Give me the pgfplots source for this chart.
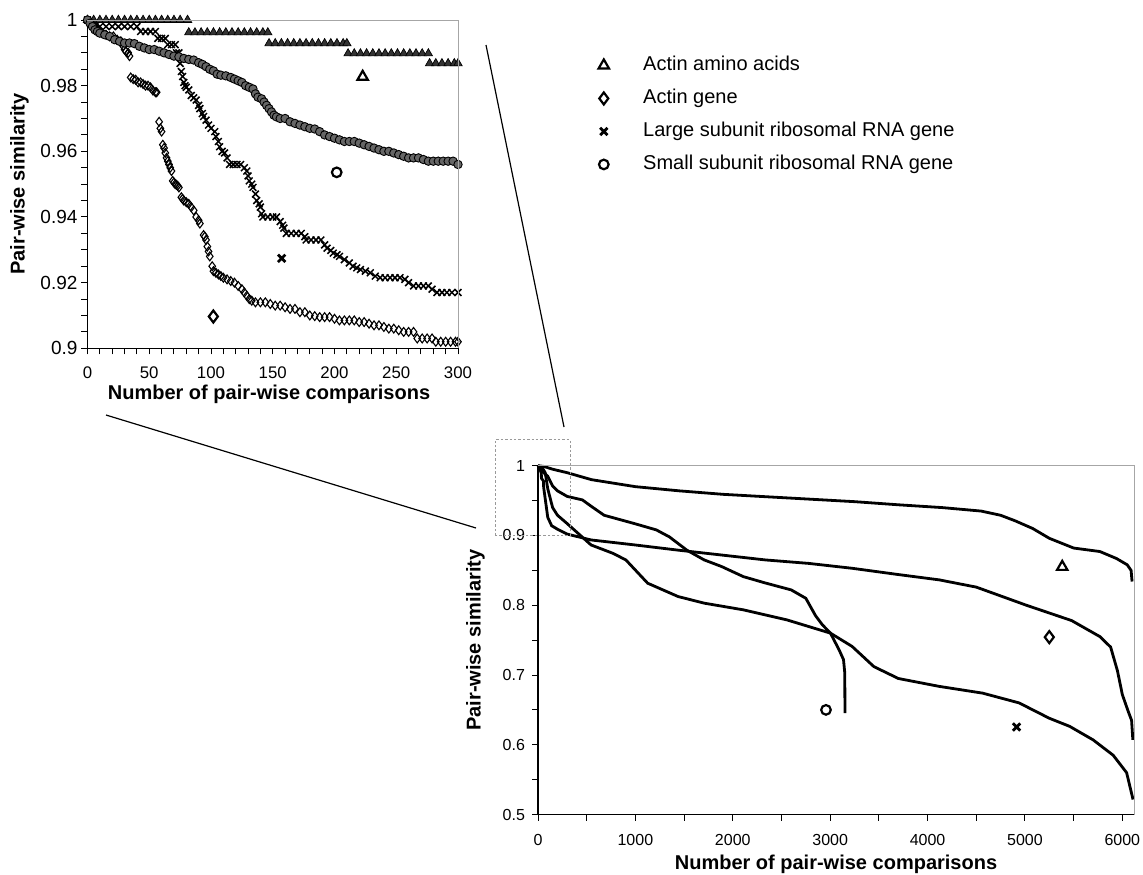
\documentclass[border=0pt]{standalone}
\usepackage{fontspec}
\setmainfont{Liberation Sans}
\usepackage{pgfplots}
\pgfplotsset{compat=1.18}

\pgfplotsset{
  simaxis/.style={
    scale only axis,
    axis x line*=bottom, axis y line*=left,
    tick align=outside,
    axis line style={line width=0.6pt},
    every tick/.style={black, line width=0.5pt},
    major tick length=3pt, minor tick length=3pt,
    /pgf/number format/assume math mode=true,
    /pgf/number format/1000 sep={},
    clip=false,
    label style={font=\fontsize{10}{12}\selectfont\bfseries},
    after end axis/.code={\draw[gray!70, line width=0.5pt]
      (rel axis cs:0,1) -- (rel axis cs:1,1) -- (rel axis cs:1,0);},
  },
  bigtri/.style={only marks, mark=triangle, mark size=3pt, mark options={line width=1.1pt, black}},
  bigdia/.style={only marks, mark=diamond, mark size=3pt, mark options={line width=1.1pt, black}},
  bigx/.style={only marks, mark=x, mark size=2.6pt, mark options={line width=1.4pt, black}},
  bigo/.style={only marks, mark=o, mark size=2.4pt, mark options={line width=1.1pt, black}},
  curve/.style={black, line width=1.4pt, no marks, forget plot},
}

\begin{document}
\begin{tikzpicture}
\path[use as bounding box] (0,0) rectangle (571.5pt,-437pt);

% ---- inset: first 300 comparisons ----
\begin{axis}[simaxis,
  at={(43.75pt,-174.15pt)}, anchor=south west,
  width=185.25pt, height=164.15pt,
  xmin=0, xmax=300, ymin=0.9, ymax=1,
  xtick={0,50,100,150,200,250,300},
  ytick={0.9,0.92,0.94,0.96,0.98,1},
  minor x tick num=4, minor y tick num=3,
  xticklabel style={font=\fontsize{8.4}{10}\selectfont, yshift=-2.5pt},
  yticklabel style={font=\fontsize{9.5}{11}\selectfont, xshift=1.5pt},
  xlabel={Number of pair-wise comparisons},
  ylabel={Pair-wise similarity},
  xlabel style={at={(axis description cs:0.49,-0.14)}, anchor=center},
  ylabel style={at={(axis description cs:-0.1835,0.5)}, anchor=center},
]
% Actin amino acids
\addplot[only marks, mark=triangle*, mark size=2.4pt,
  mark options={fill=black!80, draw=black, line width=0.35pt}] coordinates {
(0,1)(5,1)(10,1)(15,1)(20,1)(25,1)(30,1)(35,1)(40,1)(45,1)(50,1)(55,1)(60,1)(65,1)(70,1)(75,1)(81,1)
(82,0.9962)(87,0.9962)(92,0.9962)(97,0.9962)(102,0.9962)(107,0.9962)(112,0.9962)(117,0.9962)(122,0.9962)(127,0.9962)(132,0.9962)(137,0.9962)(142,0.9962)(146,0.9962)
(147,0.9929)(152,0.9929)(157,0.9929)(162,0.9929)(167,0.9929)(172,0.9929)(177,0.9929)(182,0.9929)(187,0.9929)(192,0.9929)(197,0.9929)(202,0.9929)(207,0.9929)(210,0.9929)
(211,0.9898)(216,0.9898)(221,0.9898)(226,0.9898)(231,0.9898)(236,0.9898)(241,0.9898)(246,0.9898)(251,0.9898)(256,0.9898)(261,0.9898)(266,0.9898)(271,0.9898)(276,0.9898)
(277,0.9868)(282,0.9868)(287,0.9868)(292,0.9868)(297,0.9868)(300,0.9868)
};
% Actin gene
\addplot[only marks, mark=diamond, mark size=2.2pt,
  mark options={draw=black, line width=0.55pt}] coordinates {
(0,1)(3,0.999)(6,0.998)(9,0.997)(12,0.996)(15,0.9955)(18,0.995)(21,0.995)(24,0.994)(27,0.9935)(29,0.992)(30,0.991)(31,0.9905)(33,0.990)(34,0.989)
(35,0.9825)(37,0.982)(39,0.9818)(41,0.981)(43,0.981)(45,0.9805)(47,0.980)(49,0.980)(51,0.9795)(53,0.9785)(55,0.978)(56,0.978)
(58,0.969)(59,0.967)(60,0.966)(61,0.962)(62,0.961)(63,0.9595)(64,0.958)(65,0.957)(66,0.956)(67,0.955)(68,0.954)
(69,0.951)(70,0.9505)(71,0.950)(72,0.9498)(73,0.9495)(74,0.949)
(76,0.946)(77,0.9455)(78,0.945)(80,0.9445)(82,0.944)(84,0.943)(86,0.942)(88,0.940)(90,0.939)(91,0.938)
(94,0.9345)(95,0.934)(96,0.933)(97,0.931)(98,0.9295)(99,0.928)(101,0.925)(102,0.9235)(104,0.923)(106,0.9225)(108,0.922)(110,0.9215)
(113,0.921)(116,0.9205)(119,0.920)(122,0.919)(125,0.918)(127,0.917)(129,0.916)(131,0.915)(133,0.9145)(136,0.914)(140,0.914)(144,0.914)
(148,0.9135)(152,0.913)(156,0.913)(160,0.9125)(164,0.912)(168,0.912)(172,0.911)(176,0.911)(180,0.910)(184,0.9098)(188,0.9095)(192,0.9095)(196,0.9095)
(200,0.909)(204,0.9085)(208,0.9085)(212,0.9085)(216,0.9085)(220,0.908)(224,0.908)(228,0.9075)(232,0.907)(236,0.907)(240,0.9065)(244,0.906)(248,0.906)
(252,0.9055)(256,0.905)(260,0.905)(264,0.905)(267,0.903)(271,0.903)(275,0.903)(279,0.903)(282,0.902)(286,0.902)(290,0.902)(294,0.902)(298,0.902)(300,0.902)
};
% Large subunit rRNA gene
\addplot[only marks, mark=x, mark size=2.4pt,
  mark options={draw=black, line width=0.75pt}] coordinates {
(0,1)(3,0.999)(6,0.998)(10,0.998)(15,0.998)(20,0.998)(25,0.998)(30,0.998)(35,0.998)(40,0.998)
(43,0.9965)(47,0.9965)(51,0.9965)(55,0.9965)(57,0.9944)(60,0.9944)(63,0.9944)(65,0.9925)(68,0.9925)(71,0.9925)(72,0.990)(74,0.990)
(75,0.9868)(76,0.9843)(77,0.9828)(78,0.981)(79,0.980)(80,0.9795)(82,0.9787)(84,0.977)(86,0.9763)(88,0.9756)(90,0.974)(91,0.973)
(93,0.9715)(94,0.9706)(96,0.9695)(98,0.968)(100,0.967)(103,0.966)(104,0.9645)(106,0.963)(107,0.9614)(109,0.960)(111,0.9595)(113,0.958)
(115,0.956)(118,0.956)(121,0.956)(124,0.956)(127,0.955)(129,0.954)(130,0.9525)(131,0.951)(133,0.950)(134,0.949)(136,0.947)(137,0.945)
(139,0.944)(140,0.943)(141,0.941)(142,0.940)(146,0.940)(150,0.940)(153,0.940)(156,0.9386)(158,0.9375)(159,0.9366)
(161,0.935)(165,0.935)(169,0.935)(173,0.935)(176,0.934)(177,0.933)(181,0.933)(185,0.933)(189,0.933)(192,0.9315)(194,0.9305)(197,0.9298)
(199,0.929)(202,0.9285)(204,0.928)(208,0.927)(212,0.926)(215,0.925)(218,0.9245)(221,0.924)(225,0.9235)(229,0.923)(233,0.922)
(237,0.9215)(241,0.9215)(245,0.9215)(249,0.9215)(253,0.9215)(257,0.921)(260,0.920)(264,0.919)(268,0.919)(272,0.919)(276,0.919)
(279,0.918)(283,0.917)(287,0.917)(291,0.917)(295,0.917)(300,0.917)
};
% Small subunit rRNA gene
\addplot[only marks, mark=*, mark size=2.1pt,
  mark options={fill=black!60, draw=black, line width=0.45pt}] coordinates {
(0,1)(2,0.999)(4,0.998)(6,0.997)(8,0.9965)(10,0.996)(14,0.9955)(18,0.995)(22,0.994)(26,0.9935)(30,0.993)(34,0.993)(38,0.9928)
(42,0.992)(46,0.9915)(50,0.991)(54,0.991)(58,0.9905)(62,0.990)(66,0.9895)(70,0.989)(74,0.9888)(78,0.9883)(82,0.988)(86,0.9878)
(90,0.987)(93,0.9865)(96,0.9858)(99,0.985)(102,0.9845)(105,0.9835)(108,0.9832)(112,0.983)(116,0.9825)(119,0.982)(122,0.9815)
(125,0.981)(128,0.980)(131,0.9795)(134,0.979)(136,0.9775)(138,0.9765)(141,0.976)(143,0.975)(145,0.974)(147,0.973)(149,0.972)
(151,0.971)(153,0.9705)(156,0.970)(160,0.970)(164,0.969)(168,0.9685)(172,0.968)(176,0.9675)(180,0.967)(184,0.9668)(188,0.966)
(192,0.965)(196,0.9645)(200,0.964)(204,0.9635)(208,0.963)(212,0.963)(216,0.963)(220,0.9625)(224,0.962)(228,0.9615)(232,0.961)
(236,0.9605)(240,0.960)(244,0.960)(248,0.9595)(252,0.959)(256,0.9585)(260,0.958)(264,0.958)(268,0.958)(272,0.9575)(276,0.957)
(280,0.957)(284,0.957)(288,0.957)(292,0.957)(296,0.957)(300,0.956)
};
\addplot[bigtri] coordinates {(222.8,0.9827)};
\addplot[bigo] coordinates {(201.8,0.9536)};
\addplot[bigx] coordinates {(157.2,0.9274)};
\addplot[bigdia] coordinates {(101.9,0.9097)};
\end{axis}

% ---- main: all comparisons ----
\begin{axis}[simaxis,
  at={(269pt,-407.25pt)}, anchor=south west,
  width=298pt, height=174.4pt,
  xmin=0, xmax=6120, ymin=0.5, ymax=1,
  xtick={0,1000,2000,3000,4000,5000,6000},
  ytick={0.5,0.6,0.7,0.8,0.9,1},
  minor x tick num=1, minor y tick num=1,
  xticklabel style={font=\fontsize{8}{10}\selectfont, yshift=-3.5pt},
  yticklabel style={font=\fontsize{8}{10}\selectfont},
  xlabel={Number of pair-wise comparisons},
  ylabel={Pair-wise similarity},
  xlabel style={at={(axis description cs:0.5,-0.143)}, anchor=center},
  ylabel style={at={(axis description cs:-0.105,0.5)}, anchor=center},
  legend style={at={(rel axis cs:0.099,2.176)}, anchor=north west, draw=none, fill=none,
    font=\fontsize{10}{12}\selectfont, row sep=7pt, inner sep=0pt,
    nodes={inner sep=0pt, text height=7.5pt, text depth=2pt}},
  legend cell align=left,
  legend image code/.code={\path (-3pt,0pt) (19.5pt,0pt); \draw[#1] plot coordinates {(0pt,0pt)};},
]
\addplot[curve] coordinates {
(0,1)(60,0.999)(150,0.995)(300,0.99)(550,0.98)(1000,0.970)(1450,0.964)(1900,0.959)(2350,0.9555)
(2800,0.952)(3250,0.9485)(3700,0.944)(4150,0.940)(4550,0.935)(4750,0.929)(4900,0.921)(5080,0.910)
(5250,0.896)(5500,0.882)(5770,0.877)(5940,0.867)(6050,0.858)(6090,0.850)(6100,0.834)
};
\addplot[curve] coordinates {
(0,1)(20,0.995)(34,0.989)(35,0.982)(57,0.978)(58,0.969)(100,0.926)(140,0.914)(200,0.909)(300,0.902)
(545,0.8936)(992,0.8865)(1438,0.879)(1885,0.872)(2332,0.865)(2779,0.860)(3225,0.853)(3700,0.844)
(4119,0.8364)(4500,0.826)(5015,0.800)(5480,0.778)(5770,0.755)(5880,0.740)(5950,0.706)(6000,0.672)
(6060,0.648)(6095,0.635)(6108,0.607)
};
\addplot[curve] coordinates {
(0,1)(40,0.998)(74,0.990)(100,0.967)(150,0.940)(200,0.929)(300,0.917)(545,0.8864)(768,0.8745)
(902,0.865)(1126,0.8316)(1438,0.8125)(1706,0.803)(2109,0.7934)(2556,0.779)(3003,0.760)(3225,0.741)
(3449,0.712)(3700,0.695)(4119,0.6837)(4566,0.674)(4940,0.660)(5250,0.638)(5459,0.6264)(5700,0.607)
(5906,0.585)(6044,0.560)(6110,0.5215)
};
\addplot[curve] coordinates {
(0,1)(50,0.991)(100,0.985)(150,0.971)(200,0.964)(300,0.956)(456,0.951)(545,0.942)(679,0.929)
(992,0.917)(1215,0.908)(1349,0.898)(1528,0.879)(1706,0.865)(1885,0.8555)(2109,0.841)(2332,0.832)
(2600,0.822)(2750,0.810)(2850,0.785)(2920,0.772)(3003,0.760)(3092,0.736)(3137,0.722)(3150,0.703)(3152,0.6455)
};
\addplot[bigtri] coordinates {(5383,0.855)};
\addlegendentry{Actin amino acids}
\addplot[bigdia] coordinates {(5250,0.7543)};
\addlegendentry{Actin gene}
\addplot[bigx] coordinates {(4914,0.6255)};
\addlegendentry{Large subunit ribosomal RNA gene}
\addplot[bigo] coordinates {(2957,0.650)};
\addlegendentry{Small subunit ribosomal RNA gene}
\draw[gray!80, line width=0.5pt, dash pattern=on 1.2pt off 1pt]
  (axis cs:-440,0.9) rectangle (axis cs:330,1.037);
\end{axis}

% connector lines from the dotted box to the inset
\draw[black, line width=0.6pt] (243pt,-22.5pt) -- (282pt,-213.5pt);
\draw[black, line width=0.6pt] (53pt,-207.5pt) -- (238pt,-264pt);
\end{tikzpicture}
\end{document}
